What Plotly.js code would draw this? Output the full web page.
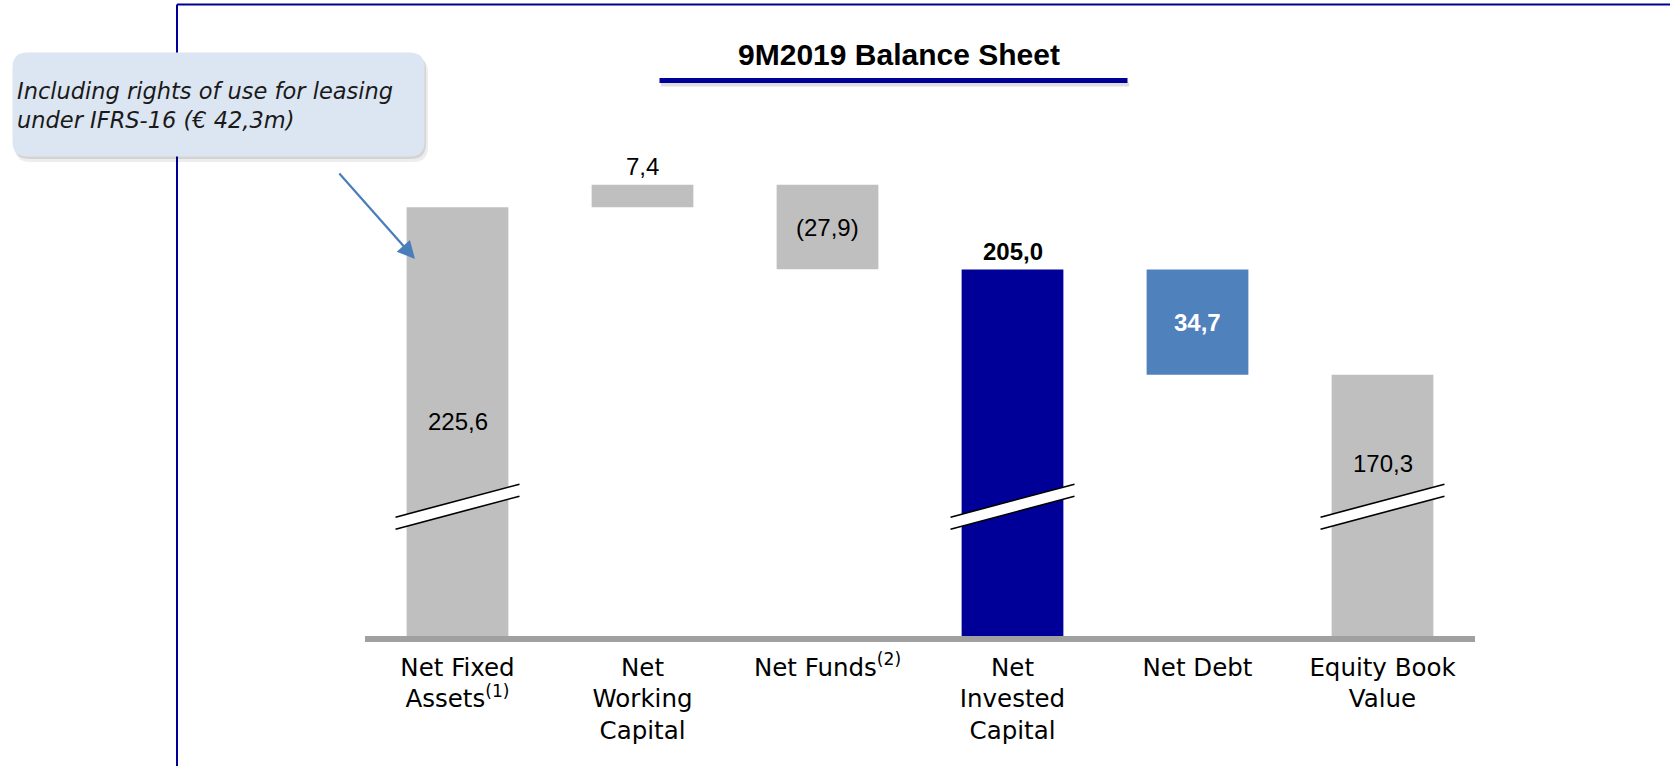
<!DOCTYPE html>
<html>
<head>
<meta charset="utf-8">
<script src="https://cdn.plot.ly/plotly-3.0.1.min.js"></script>
<style>
  html, body { margin: 0; padding: 0; background: #ffffff; }
  #chart { width: 1670px; height: 766px; }
</style>
</head>
<body>
<div id="chart"></div>
<script>
// ---------------- DATA ----------------
const categories = ['Net Fixed Assets', 'Net Working Capital', 'Net Funds', 'Net Invested Capital', 'Net Debt', 'Equity Book Value'];
const tickLabels = ['Net Fixed<br>Assets<sup>(1)</sup>', 'Net<br>Working<br>Capital', 'Net Funds<sup>(2)</sup>', 'Net<br>Invested<br>Capital', 'Net Debt', 'Equity Book<br>Value'];
const values = [225.6, 7.4, -27.9, 205.0, -34.7, 170.3];
const measures = ['absolute', 'relative', 'relative', 'total', 'relative', 'total'];
const valueLabels = ['225,6', '7,4', '(27,9)', '205,0', '34,7', '170,3'];
const chartTitle = '9M2019 Balance Sheet';
const calloutText = 'Including rights of use for leasing<br>under IFRS-16 (€ 42,3m)';

// ---------------- STYLE ----------------
const W = 1670, H = 766;
const M = { l: 365, r: 195, t: 100, b: 130 };
const yRange = [84, 261];           // axis break: the axis starts above zero
const GRAY = '#bfbfbf', NAVY = '#000099', STEEL = '#4f81bd';
const barColors = [GRAY, GRAY, GRAY, NAVY, STEEL, GRAY];
const labelPlacement = ['inside', 'outside', 'inside', 'outside', 'inside', 'inside'];
const labelBold = [false, false, false, true, true, false];
const labelColor = ['#000', '#000', '#000', '#000', '#fff', '#000'];
const BAR_W = 0.55;
const LABEL_FONT = 'Liberation Sans, Arial, sans-serif';
const CAT_FONT = 'DejaVu Sans, sans-serif';

const plotW = W - M.l - M.r, plotH = H - M.t - M.b;
const xp = px => (px - M.l) / plotW;
const yp = py => (H - M.b - py) / plotH;

// ---------------- WATERFALL GEOMETRY ----------------
const idx = categories.map((c, i) => i);
const bases = [], heights = [], tops = [];
let running = 0;
values.forEach((v, i) => {
  if (measures[i] === 'relative') {
    const start = running, end = running + v;
    bases.push(Math.min(start, end));
    heights.push(Math.abs(v));
    tops.push(Math.max(start, end));
    running = end;
  } else {
    bases.push(0);
    heights.push(v);
    tops.push(v);
    running = v;
  }
});

// break marks on bars cut by the axis floor
const BREAK_C = 126.7, BREAK_RISE = 5.45, BREAK_GAP = 1.98, BREAK_HALF = 0.335;
const shapes = [];
const annotations = [];

// frame (blue lines)
shapes.push({ type: 'line', xref: 'paper', yref: 'paper', x0: xp(177), x1: xp(W + 5), y0: yp(4.5), y1: yp(4.5), line: { color: NAVY, width: 2 } });
shapes.push({ type: 'line', xref: 'paper', yref: 'paper', x0: xp(177), x1: xp(177), y0: yp(4.5), y1: yp(H + 5), line: { color: NAVY, width: 2 } });

// title underline with shadow
shapes.push({ type: 'line', xref: 'paper', yref: 'paper', x0: xp(661), x1: xp(1129), y0: yp(84.5), y1: yp(84.5), line: { color: 'rgba(0,0,0,0.13)', width: 4 } });
shapes.push({ type: 'line', xref: 'paper', yref: 'paper', x0: xp(659.5), x1: xp(1127.5), y0: yp(80.5), y1: yp(80.5), line: { color: NAVY, width: 5 } });

// baseline
shapes.push({ type: 'line', xref: 'paper', yref: 'paper', x0: 0, x1: 1, y0: yp(639), y1: yp(639), line: { color: '#a0a0a0', width: 6 } });

// callout box
function roundRect(x0, y0, x1, y1, r) {
  const P = (x, y) => xp(x) + ',' + yp(y);
  return 'M' + P(x0 + r, y0) + ' L' + P(x1 - r, y0) + ' Q' + P(x1, y0) + ' ' + P(x1, y0 + r) +
    ' L' + P(x1, y1 - r) + ' Q' + P(x1, y1) + ' ' + P(x1 - r, y1) +
    ' L' + P(x0 + r, y1) + ' Q' + P(x0, y1) + ' ' + P(x0, y1 - r) +
    ' L' + P(x0, y0 + r) + ' Q' + P(x0, y0) + ' ' + P(x0 + r, y0) + ' Z';
}
shapes.push({ type: 'path', xref: 'paper', yref: 'paper', path: roundRect(15, 57, 428, 162, 15), fillcolor: 'rgba(0,0,0,0.07)', line: { width: 0 } });
shapes.push({ type: 'path', xref: 'paper', yref: 'paper', path: roundRect(14, 55, 426, 159, 15), fillcolor: 'rgba(0,0,0,0.10)', line: { width: 0 } });
shapes.push({ type: 'path', xref: 'paper', yref: 'paper', path: roundRect(12.5, 52.5, 424.5, 156.5, 15), fillcolor: '#dce6f2', line: { width: 0 } });

idx.forEach(i => {
  if (bases[i] < yRange[0]) {
    const xl = i - BREAK_HALF, xr = i + BREAK_HALF;
    const upL = BREAK_C - BREAK_RISE + BREAK_GAP, upR = BREAK_C + BREAK_RISE + BREAK_GAP;
    const loL = BREAK_C - BREAK_RISE - BREAK_GAP, loR = BREAK_C + BREAK_RISE - BREAK_GAP;
    shapes.push({ type: 'path', xref: 'x', yref: 'y', path: `M${xl},${loL} L${xr},${loR} L${xr},${upR} L${xl},${upL} Z`, fillcolor: '#ffffff', line: { width: 0 } });
    shapes.push({ type: 'line', xref: 'x', yref: 'y', x0: xl, x1: xr, y0: upL, y1: upR, line: { color: '#000', width: 1.6 } });
    shapes.push({ type: 'line', xref: 'x', yref: 'y', x0: xl, x1: xr, y0: loL, y1: loR, line: { color: '#000', width: 1.6 } });
  }
});

// value labels
const pxPerUnit = plotH / (yRange[1] - yRange[0]);
idx.forEach(i => {
  const top = tops[i];
  const bottom = Math.max(bases[i], yRange[0]);
  const txt = labelBold[i] ? '<b>' + valueLabels[i] + '</b>' : valueLabels[i];
  const font = { family: LABEL_FONT, size: 24, color: labelColor[i] };
  if (labelPlacement[i] === 'outside') {
    annotations.push({ x: i, y: top, xref: 'x', yref: 'y', text: txt, showarrow: false, yanchor: 'bottom', yshift: 3, font });
  } else {
    let y = (top + bottom) / 2;
    if (bases[i] < yRange[0]) {
      const minY = BREAK_C + BREAK_GAP + 37 / pxPerUnit;
      y = Math.max(y, minY);
    }
    annotations.push({ x: i, y: y, xref: 'x', yref: 'y', text: txt, showarrow: false, yanchor: 'middle', font });
  }
});

// callout text and arrow
annotations.push({ xref: 'paper', yref: 'paper', x: xp(15), y: yp(76), xanchor: 'left', yanchor: 'top', align: 'left', text: '<i>' + calloutText + '</i>', showarrow: false, font: { family: CAT_FONT, size: 22.5, color: '#1a1a1a' } });
annotations.push({ xref: 'paper', yref: 'paper', x: xp(415), y: yp(259), axref: 'pixel', ayref: 'pixel', ax: -77, ay: -87, text: '', showarrow: true, arrowhead: 2, arrowsize: 1.6, arrowwidth: 2.2, arrowcolor: '#4a7ebb', standoff: 0 });

const trace = {
  type: 'bar',
  x: idx,
  y: heights,
  base: bases,
  width: BAR_W,
  marker: { color: barColors, line: { width: 0 } },
  hoverinfo: 'skip',
  showlegend: false
};

const layout = {
  width: W, height: H,
  margin: M,
  paper_bgcolor: '#ffffff', plot_bgcolor: '#ffffff',
  showlegend: false,
  title: {
    text: '<b>' + chartTitle + '</b>',
    font: { family: LABEL_FONT, size: 30, color: '#000' },
    xref: 'container', yref: 'container',
    x: 899 / W, xanchor: 'center',
    y: 1 - 54 / H, yanchor: 'middle'
  },
  xaxis: {
    type: 'linear', range: [-0.5, 5.5],
    tickvals: idx, ticktext: tickLabels,
    tickfont: { family: CAT_FONT, size: 24.5, color: '#000' },
    ticklabelstandoff: 14,
    showgrid: false, zeroline: false, showline: false, ticks: '',
    fixedrange: true
  },
  yaxis: {
    range: yRange, visible: false, showgrid: false, zeroline: false, fixedrange: true
  },
  shapes: shapes,
  annotations: annotations
};

Plotly.newPlot('chart', [trace], layout, { displayModeBar: false, staticPlot: true });
</script>
</body>
</html>
